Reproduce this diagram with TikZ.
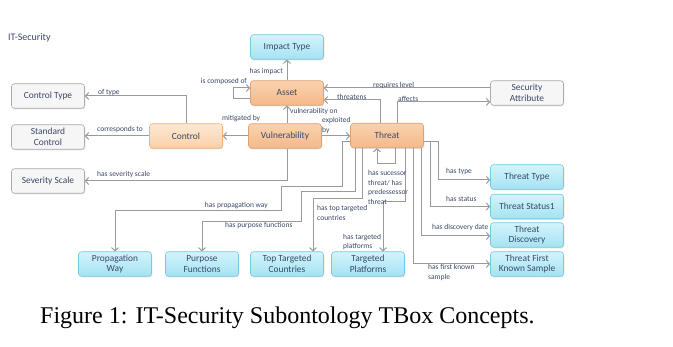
\documentclass[tikz,border=0pt]{standalone}
\usepackage{fontspec}
\setmainfont{Carlito}
\newfontfamily\capfont{Liberation Serif}
\usetikzlibrary{arrows.meta,shadows}

\definecolor{txt}{HTML}{3A4868}
\definecolor{edge}{HTML}{9A9A9A}
\definecolor{orTop}{HTML}{FAD2AE}
\definecolor{orBot}{HTML}{F4B98A}
\definecolor{orLine}{HTML}{DDA273}
\definecolor{lorTop}{HTML}{FDE8D3}
\definecolor{lorBot}{HTML}{FAD0A8}
\definecolor{lorLine}{HTML}{F0B27A}
\definecolor{cyTop}{HTML}{D2F4FC}
\definecolor{cyBot}{HTML}{A4E2F2}
\definecolor{cyLine}{HTML}{76C9E0}
\definecolor{grFill}{HTML}{F6F6F6}
\definecolor{grLine}{HTML}{ABABAB}

\tikzset{
  box/.style={rounded corners=3pt, minimum width=73pt, minimum height=24.5pt,
    inner sep=1pt, align=center, text=txt, line width=0.6pt,
    font=\fontsize{9.4}{10.6}\selectfont,
    drop shadow={shadow xshift=0.8pt, shadow yshift=-1.2pt, opacity=0.22}},
  obox/.style={box, draw=orLine, top color=orTop, bottom color=orBot},
  lobox/.style={box, draw=lorLine, top color=lorTop, bottom color=lorBot},
  cbox/.style={box, draw=cyLine, top color=cyTop, bottom color=cyBot},
  gbox/.style={box, draw=grLine, fill=grFill},
  arr/.style={draw=edge, line width=1pt, rounded corners=0pt,
    -{Straight Barb[length=3.2pt,width=7pt,line width=1pt]}},
  lbl/.style={font=\fontsize{7.5}{9.5}\selectfont, text=txt, inner sep=0pt, align=left},
}

\begin{document}
\begin{tikzpicture}[x=1pt,y=-1pt]
\useasboundingbox[fill=white] (0,0) rectangle (673,347);

% title
\node[anchor=west, font=\fontsize{10}{12}\selectfont, text=txt, inner sep=0pt] (title) at (8,38) {IT-Security};

% concepts
\node[cbox] (impact) at (287,47) {Impact Type};
\node[obox] (asset) at (287,93) {Asset};
\node[gbox] (ctrltype) at (48,96) {Control Type};
\node[gbox] (stdctrl) at (48,137) {Standard\\Control};
\node[lobox] (control) at (186,136) {Control};
\node[obox] (vuln) at (285,136) {Vulnerability};
\node[gbox] (sev) at (48,181) {Severity Scale};
\node[gbox] (secattr) at (527,93) {Security\\Attribute};
\node[obox] (threat) at (387,135.5) {Threat};
\node[cbox] (ttype) at (527,177) {Threat Type};
\node[cbox] (tstatus) at (527,206.5) {Threat Status1};
\node[cbox] (tdisc) at (527,235) {Threat\\Discovery};
\node[cbox] (tfirst) at (527,264) {Threat First\\Known Sample};
\node[cbox] (prop) at (115,264) {Propagation\\Way};
\node[cbox] (purp) at (202,264) {Purpose\\Functions};
\node[cbox] (topc) at (287,264) {Top Targeted\\Countries};
\node[cbox] (tplat) at (368,264) {Targeted\\Platforms};

% relations
\draw[arr] (asset) -- (impact);
\draw[arr] ([yshift=-6pt]asset.west) -- ++(-17,0) |- ([yshift=5pt]asset.west);
\draw[arr] (control.north) |- (ctrltype.east);
\draw[arr] (control.west) -- (stdctrl.east |- control.west);
\draw[arr] (vuln.west) -- (control.east);
\draw[arr] ([xshift=2pt]vuln.north) -- ([xshift=2pt]vuln.north |- asset.south);
\draw[arr] (vuln.east) -- (threat.west |- vuln.east);
\draw[arr] ([xshift=2pt]vuln.south) |- (sev.east);
\draw[arr] ([yshift=5pt]secattr.west) -- ([yshift=5pt]asset.east);
\draw[arr] ([xshift=-7pt]threat.north) |- ([yshift=-7pt]asset.east);
\draw[arr] ([xshift=10pt]threat.north) |- ([yshift=-9pt]secattr.west);
\draw[arr] ([xshift=8pt]threat.south) -- ++(0,15) -| ([xshift=-10pt]threat.south);
\draw[arr] ([yshift=-6pt]threat.east) -- ++(15,0) |- ([yshift=-3pt]ttype.west);
\draw[arr] ([yshift=-6pt]threat.east) -- ++(6.5,0) |- (tstatus.west);
\draw[arr] ([xshift=-2pt]threat.south east) |- ([yshift=-1pt]tdisc.west);
\draw[arr] ([xshift=-10pt]threat.south east) |- (tfirst.west);
\draw[arr] ([xshift=18pt]threat.south) -- ++(0,53.5) -| ([xshift=15pt]tplat.north);
\draw[arr] ([yshift=-6pt]threat.west) -- ++(-7.5,0) -- ++(0,45) -- ++(-61,0) -- ++(0,24) -| (prop.north);
\draw[arr] ([xshift=-32pt]threat.south) -- ++(0,43) -- ++(-54,0) -- ++(0,30) -| (purp.north);
\draw[arr] ([xshift=-25pt]threat.south) -- ++(0,50) -| ([xshift=26pt]topc.north);

% relation labels
\node[lbl, anchor=east] (lImpact) at (283,72) {has impact};
\node[lbl, anchor=east] (lComp) at (247,82) {is composed of};
\node[lbl, anchor=west] (lOfType) at (98,93) {of type};
\node[lbl, anchor=west] (lCorr) at (97,130) {corresponds to};
\node[lbl, anchor=west] (lMitig) at (222,119) {mitigated by};
\node[lbl, anchor=west] (lVulnOn) at (290,112) {vulnerability on};
\node[lbl, anchor=west] (lExpl) at (322,125.5) {exploited\\by};
\node[lbl, anchor=west] (lSev) at (97,175) {has severity scale};
\node[lbl, anchor=west] (lReq) at (373,86) {requires level};
\node[lbl, anchor=west] (lThr) at (337,97) {threatens};
\node[lbl, anchor=west] (lAff) at (398,99) {affects};
\node[lbl, anchor=west] (lSucc) at (368,187.5) {has sucessor\\threat/ has\\predessessor\\threat};
\node[lbl, anchor=west] (lType) at (446,172) {has type};
\node[lbl, anchor=west] (lStatus) at (446,199) {has status};
\node[lbl, anchor=west] (lDisc) at (432,228) {has discovery date};
\node[lbl, anchor=west] (lFirst) at (428,272.5) {has first known\\sample};
\node[lbl, anchor=west] (lPlat) at (343,242) {has targeted\\platforms};
\node[lbl, anchor=west] (lTopC) at (317,213) {has top targeted\\countries};
\node[lbl, anchor=east] (lProp) at (268,206) {has propagation way};
\node[lbl, anchor=west] (lPurp) at (225,226) {has purpose functions};

% caption
\node[anchor=base west, inner sep=0pt, font=\capfont\fontsize{24}{27}\selectfont] (caption) at (40,324) {Figure 1: IT-Security Subontology TBox Concepts.};
\end{tikzpicture}
\end{document}
